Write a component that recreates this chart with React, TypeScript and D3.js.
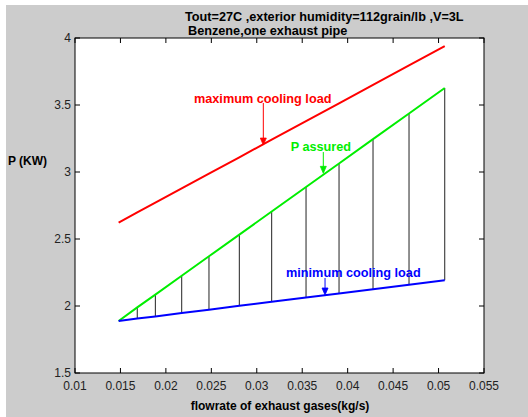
import React from "react";
import * as d3 from "d3";

const flowrate = [0.0148, 0.01685, 0.01884, 0.02174, 0.02474, 0.02808, 0.03164, 0.03542, 0.03905, 0.04279, 0.04675, 0.05068];
const pMaxCooling = [2.622, 2.698, 2.771, 2.878, 2.988, 3.11, 3.241, 3.379, 3.513, 3.65, 3.795, 3.94];
const pAssured = [1.888, 1.99, 2.085, 2.226, 2.371, 2.533, 2.705, 2.888, 3.063, 3.245, 3.437, 3.627];
const pMinCooling = [1.888, 1.906, 1.922, 1.947, 1.972, 2.001, 2.031, 2.063, 2.093, 2.125, 2.159, 2.192];
const xTicks = [0.01, 0.015, 0.02, 0.025, 0.03, 0.035, 0.04, 0.045, 0.05, 0.055];
const yTicks = [1.5, 2, 2.5, 3, 3.5, 4];
const titleLines = ["Tout=27C ,exterior humidity=112grain/lb ,V=3L", "Benzene,one exhaust pipe"];
const xLabel = "flowrate of exhaust gases(kg/s)";
const yLabel = "P (KW)";
const annotationTexts = ["maximum cooling load", "P assured", "minimum cooling load"];
const annotationColors = ["#ff0000", "#00ee00", "#0000ff"];
// text anchor (data coords) and arrow (data coords)
const annotationTextX = [0.02309, 0.03373, 0.03322];
const annotationTextY = [3.517, 3.159, 2.219];
const arrowX = [0.03072, 0.03732, 0.03751];
const arrowTop = [3.515, 3.149, 2.209];
const arrowEnd = [3.201, 2.99, 2.082];

const W = 528;
const H = 417;
const L = 75, R = 484, T = 38, B = 373;
const FONT = "'Liberation Sans', Arial, Helvetica, sans-serif";

export default function App() {
  const x = d3.scaleLinear().domain([0.01, 0.055]).range([L, R]);
  const y = d3.scaleLinear().domain([1.5, 4]).range([B, T]);
  const line = (vals: number[]) =>
    d3.line<number>().x((_, i) => x(flowrate[i])).y((d) => y(d))(vals) || "";
  const tickLen = 5;
  return (
    <svg width={W} height={H} style={{ position: "fixed", left: 0, top: 0, display: "block" }}>
      <rect x={0} y={0} width={W} height={H} fill="#ffffff" />
      <rect x={6} y={5} width={W - 6} height={H - 5} fill="#cccccc" />
      <rect x={L} y={T} width={R - L} height={B - T} fill="#ffffff" />
      {flowrate.map((f, i) =>
        i === 0 ? null : (
          <line key={"v" + i} x1={x(f)} x2={x(f)} y1={y(pMinCooling[i])} y2={y(pAssured[i])} stroke="#222" strokeWidth={1} />
        )
      )}
      <path d={line(pMaxCooling)} fill="none" stroke="#ff0000" strokeWidth={2} />
      <path d={line(pAssured)} fill="none" stroke="#00ee00" strokeWidth={2} />
      <path d={line(pMinCooling)} fill="none" stroke="#0000ff" strokeWidth={2} />
      <rect x={L} y={T} width={R - L} height={B - T} fill="none" stroke="#000" strokeWidth={1} />
      {xTicks.map((t, i) => (
        <g key={"xt" + i}>
          <line x1={x(t)} x2={x(t)} y1={B} y2={B - tickLen} stroke="#000" />
          <line x1={x(t)} x2={x(t)} y1={T} y2={T + tickLen} stroke="#000" />
          <text x={x(t)} y={390} textAnchor="middle" fontFamily={FONT} fontSize={12} fill="#222">
            {String(t)}
          </text>
        </g>
      ))}
      {yTicks.map((t, i) => (
        <g key={"yt" + i}>
          <line x1={L} x2={L + tickLen} y1={y(t)} y2={y(t)} stroke="#000" />
          <line x1={R} x2={R - tickLen} y1={y(t)} y2={y(t)} stroke="#000" />
          <text x={71} y={y(t) + 4} textAnchor="end" fontFamily={FONT} fontSize={12} fill="#222">
            {String(t)}
          </text>
        </g>
      ))}
      <text x={185} y={21} fontFamily={FONT} fontSize={12.7} fontWeight="bold" fill="#000">{titleLines[0]}</text>
      <text x={188} y={35} fontFamily={FONT} fontSize={12.7} fontWeight="bold" fill="#000">{titleLines[1]}</text>
      <text x={280} y={410} textAnchor="middle" fontFamily={FONT} fontSize={12} fontWeight="bold" fill="#000">{xLabel}</text>
      <text x={8} y={165} fontFamily={FONT} fontSize={12} fontWeight="bold" fill="#000">{yLabel}</text>
      {annotationTexts.map((txt, i) => {
        const ax = x(arrowX[i]);
        const y0 = y(arrowTop[i]);
        const y1 = y(arrowEnd[i]);
        const c = annotationColors[i];
        return (
          <g key={"a" + i}>
            <text x={x(annotationTextX[i])} y={y(annotationTextY[i])} fontFamily={FONT} fontSize={12.7} fontWeight="bold" fill={c}>{txt}</text>
            <line x1={ax} x2={ax} y1={y0} y2={y1 - 5} stroke={c} strokeWidth={1} />
            <path d={`M${ax - 3},${y1 - 7} L${ax + 3},${y1 - 7} L${ax},${y1} Z`} fill={c} stroke={c} strokeWidth={0.8} />
          </g>
        );
      })}
    </svg>
  );
}
